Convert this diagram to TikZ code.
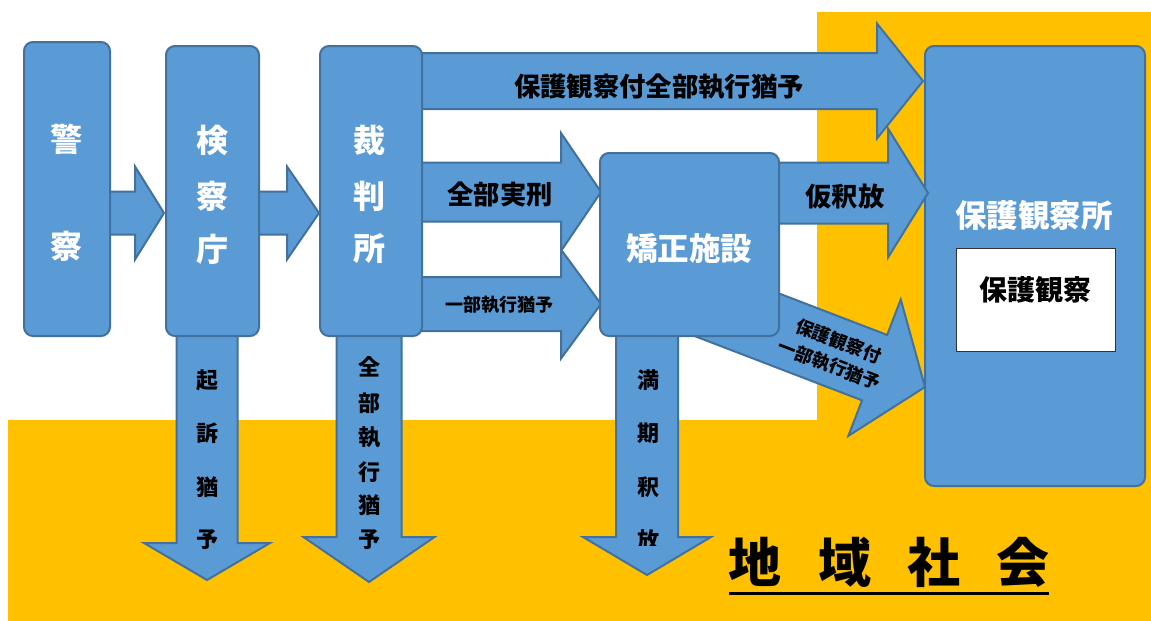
\documentclass[tikz,border=0pt]{standalone}
\usepackage{fontspec}
\setmainfont{Noto Sans CJK JP}
\definecolor{blu}{HTML}{5B9BD5}
\definecolor{bdr}{HTML}{41719C}
\definecolor{ylw}{HTML}{FFC000}
\newcommand\fs[1]{\fontsize{#1}{#1}\selectfont}
% horizontal block arrow: x1, tip x, center y, shaft half, head half, head length
\newcommand\harrow[6]{\draw[arr] (#1,#3-#4) -- (#2-#6,#3-#4) -- (#2-#6,#3-#5) -- (#2,#3) -- (#2-#6,#3+#5) -- (#2-#6,#3+#4) -- (#1,#3+#4) -- cycle;}
% vertical block arrow: center x, y1, tip y, shaft half, head half, head length
\newcommand\varrow[6]{\draw[arr] (#1-#4,#2) -- (#1-#4,#3-#6) -- (#1-#5,#3-#6) -- (#1,#3) -- (#1+#5,#3-#6) -- (#1+#4,#3-#6) -- (#1+#4,#2) -- cycle;}
\tikzset{
  boxst/.style={draw=bdr, fill=blu, line width=2pt, rounded corners=9pt, anchor=north west, inner sep=0pt},
  arr/.style={draw=bdr, fill=blu, line width=2pt, line join=miter},
  wlab/.style={text=white, font=\bfseries\fs{32}, inner sep=0pt},
  blab/.style={text=black, font=\bfseries\fs{#1}, inner sep=0pt},
}
\begin{document}
\begin{tikzpicture}[x=1pt,y=-1pt]
\useasboundingbox (0,0) rectangle (1151,621);
\fill[white] (0,0) rectangle (1151,621);
% yellow community area
\fill[ylw] (817,12) rectangle (1151,621);
\fill[ylw] (8,420) rectangle (1151,621);

% probation office
\node[boxst, minimum width=220pt, minimum height=440pt] (office) at (924,45) {};

% block arrows
\harrow{109}{164}{213}{21.5}{46.5}{29}
\harrow{258}{319}{213}{21.5}{46.5}{32}
\harrow{421}{923}{81}{28}{57.5}{46}
\harrow{421}{601}{192}{29.5}{59}{40}
\harrow{421}{601}{304}{27}{54.5}{40}
\harrow{778}{928}{193}{30.5}{64.5}{40}
\varrow{207}{330}{580}{30.5}{63}{37}
\varrow{369}{330}{582}{32.5}{65.5}{45}
\varrow{647}{330}{575}{31}{64}{38}
\begin{scope}[shift={(925,387)}, rotate=-21]
  \draw[arr] (-260,-35) -- (-54,-35) -- (-54,-73) -- (0,0) -- (-54,73) -- (-54,35) -- (-260,35) -- cycle;
\end{scope}

% boxes
\node[boxst, minimum width=86pt, minimum height=294pt] (police) at (23,41) {};
\node[boxst, minimum width=93pt, minimum height=290pt] (prosec) at (165,45) {};
\node[boxst, minimum width=102pt, minimum height=290pt] (court) at (319,45) {};
\node[boxst, minimum width=179pt, minimum height=183pt] (corr) at (599,152) {};
\node[draw=black!80, fill=white, line width=1pt, minimum width=159pt, minimum height=103pt, anchor=north west] (probbox) at (956,248) {};

% box labels
\node[wlab] (p1) at (66,139) {警};
\node[wlab] (p2) at (66,246) {察};
\node[wlab] (q1) at (212,140) {検};
\node[wlab] (q2) at (212,196) {察};
\node[wlab] (q3) at (212,249) {庁};
\node[wlab] (c1) at (369,140) {裁};
\node[wlab] (c2) at (369,196) {判};
\node[wlab] (c3) at (369,249) {所};
\node[wlab, font=\bfseries\fs{31.5}] (corrt) at (689,248) {矯正施設};
\node[wlab, font=\bfseries\fs{31.5}] (officet) at (1034,215) {保護観察所};
\node[blab=28] (probt) at (1035,290) {保護観察};

% arrow labels
\node[blab=26.3] (lab1) at (659,87) {保護観察付全部執行猶予};
\node[blab=26.3] (lab2) at (500,195) {全部実刑};
\node[blab=18] (lab3) at (499,305) {一部執行猶予};
\node[blab=26.3] (lab4) at (845,197) {仮釈放};
\node[text=black, font=\bfseries\fontsize{18}{25}\selectfont, inner sep=0pt, align=center, rotate=-21] (lab5) at (834,353) {保護観察付\\一部執行猶予};

% vertical labels
\begin{scope}
\clip (150,340) rectangle (430,551);
\node[blab=22] (v1) at (207,380) {起};
\node[blab=22] (v2) at (207,433) {訴};
\node[blab=22] (v3) at (207,487) {猶};
\node[blab=22] (v4) at (207,540) {予};
\node[blab=22] (w1) at (369,367) {全};
\node[blab=22] (w2) at (369,403) {部};
\node[blab=22] (w3) at (369,437) {執};
\node[blab=22] (w4) at (369,472) {行};
\node[blab=22] (w5) at (369,505) {猶};
\node[blab=22] (w6) at (369,540) {予};
\end{scope}
\begin{scope}
\clip (600,340) rectangle (700,545);
\node[blab=22] (m1) at (648,380) {満};
\node[blab=22] (m2) at (648,433) {期};
\node[blab=22] (m3) at (648,487) {釈};
\node[blab=22] (m4) at (648,540) {放};
\end{scope}

% community
\node[blab=53] (s1) at (755,562) {地};
\node[blab=53] (s2) at (845,562) {域};
\node[blab=53] (s3) at (934,562) {社};
\node[blab=53] (s4) at (1023,562) {会};
\coordinate (ulA) at (729,593);
\coordinate (ulB) at (1049,593);
\draw[line width=3pt] (ulA) -- (ulB);
\end{tikzpicture}
\end{document}
